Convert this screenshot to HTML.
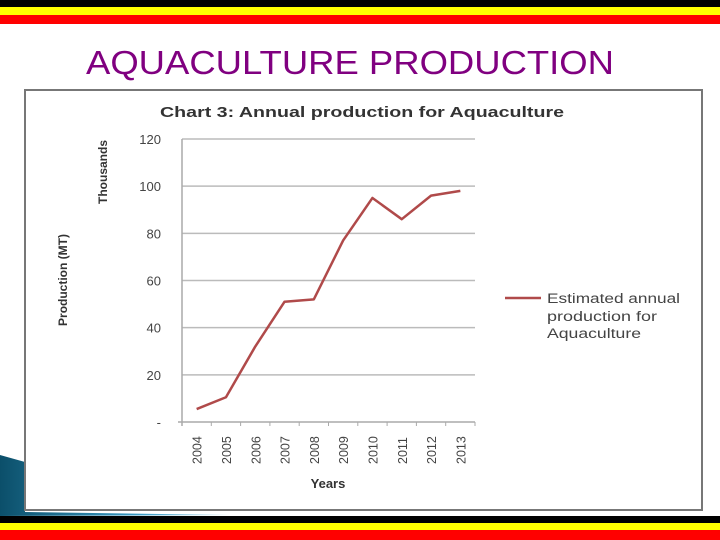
<!DOCTYPE html>
<html><head><meta charset="utf-8"><style>
html,body{margin:0;padding:0;background:#fff;}
body{width:720px;height:540px;position:relative;overflow:hidden;font-family:"Liberation Sans",sans-serif;}
</style></head><body>
<svg width="720" height="540" viewBox="0 0 720 540" style="position:absolute;left:0;top:0">
  <defs><linearGradient id="tg" x1="0" y1="0" x2="1" y2="0"><stop offset="0" stop-color="#0b4f6a"/><stop offset="0.6" stop-color="#3a9bc4"/><stop offset="1" stop-color="#a8d8ea"/></linearGradient></defs>
  <g>
    <rect x="0" y="0" width="720" height="7" fill="#000"/>
    <rect x="0" y="7" width="720" height="8" fill="#ffff00"/>
    <rect x="0" y="15" width="720" height="9" fill="#ff0000"/>
  </g>
  <text x="350" y="74" text-anchor="middle" font-size="33" fill="#800080" textLength="528" lengthAdjust="spacingAndGlyphs">AQUACULTURE PRODUCTION</text>
  <polygon points="0,455 25,462 25,512 230,515 0,516" fill="url(#tg)"/>
  <rect x="25" y="90" width="677" height="420" fill="#fff" stroke="#777" stroke-width="2"/>
  <g>
    <rect x="0" y="516" width="720" height="7" fill="#000"/>
    <rect x="0" y="523" width="720" height="7" fill="#ffff00"/>
    <rect x="0" y="530" width="720" height="10" fill="#ff0000"/>
  </g>
  <text x="362" y="117" text-anchor="middle" font-size="14.5" font-weight="bold" fill="#333" textLength="404" lengthAdjust="spacingAndGlyphs">Chart 3: Annual production for Aquaculture</text>
  <text transform="translate(107,172) rotate(-90)" text-anchor="middle" font-size="12" font-weight="bold" fill="#333">Thousands</text>
  <text transform="translate(67,280) rotate(-90)" text-anchor="middle" font-size="12" font-weight="bold" fill="#333">Production (MT)</text>
  <text x="328" y="488" text-anchor="middle" font-size="13" font-weight="bold" fill="#333">Years</text>
  <g id="plot"></g>
  <line x1="505" y1="298" x2="541" y2="298" stroke="#b04a4a" stroke-width="2.5"/>
  <text font-size="13.5" fill="#444"><tspan x="547" y="303" textLength="133" lengthAdjust="spacingAndGlyphs">Estimated annual</tspan><tspan x="547" y="321" textLength="110" lengthAdjust="spacingAndGlyphs">production for</tspan><tspan x="547" y="338" textLength="94" lengthAdjust="spacingAndGlyphs">Aquaculture</tspan></text>
</svg>
<script>
const categories=["2004","2005","2006","2007","2008","2009","2010","2011","2012","2013"];
const values=[5.5,10.5,32,51,52,77,95,86,96,98];
const yTicks=[0,20,40,60,80,100,120];
const yTickLabels=["-","20","40","60","80","100","120"];
const NS="http://www.w3.org/2000/svg";
const X0=182,X1=475,Y0=422,Y1=139;
const xs=i=>X0+(i+0.5)*(X1-X0)/categories.length;
const ys=v=>Y0-(v/120)*(Y0-Y1);
const g=document.getElementById('plot');
function mk(t,a){const e=document.createElementNS(NS,t);for(const k in a)e.setAttribute(k,a[k]);g.appendChild(e);return e;}
yTicks.forEach((v,i)=>{
  if(v>0){const l=mk('line',{x1:X0,x2:X1,y1:ys(v),y2:ys(v),stroke:'#bbb','stroke-width':1.5});
  
  }
  const t=mk('text',{x:161,y:ys(v)+5,'text-anchor':'end','font-size':13,fill:'#444'});
  t.textContent=yTickLabels[i];
  
  
});
const ax=mk('line',{x1:X0,x2:X0,y1:Y1,y2:Y0+4,stroke:'#aaa','stroke-width':1.5});


const bx=mk('line',{x1:X0-4,x2:X1,y1:Y0,y2:Y0,stroke:'#aaa','stroke-width':1.5});


for(let i=0;i<=categories.length;i++){const x=X0+i*(X1-X0)/categories.length;const tk=mk('line',{x1:x,x2:x,y1:Y0,y2:Y0+4,stroke:'#aaa'});

}
categories.forEach((c,i)=>{
  const t=mk('text',{transform:`translate(${xs(i)+5},464) rotate(-90)`,'font-size':12.5,fill:'#444'});
  t.textContent=c;
  
  
});
const p=mk('polyline',{points:values.map((v,i)=>xs(i)+','+ys(v)).join(' '),fill:'none',stroke:'#b04a4a','stroke-width':2.5,'stroke-linejoin':'round'});


</script>
</body></html>
